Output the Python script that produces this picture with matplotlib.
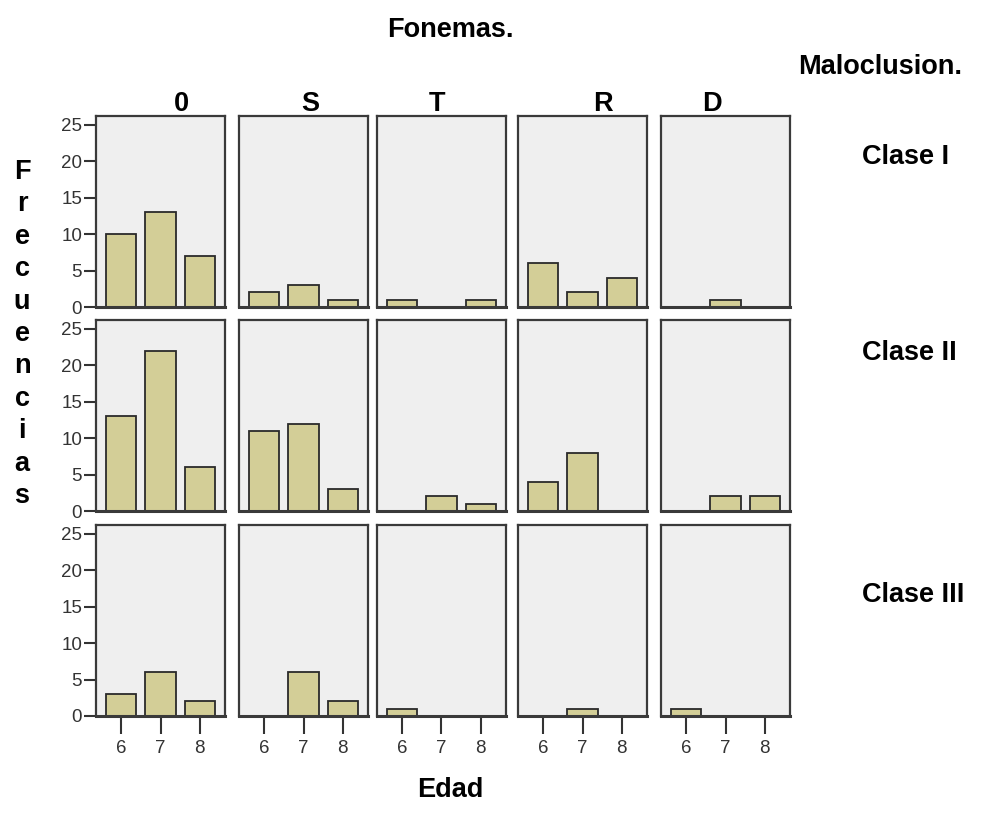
import numpy as np
import matplotlib
matplotlib.use('Agg')
import matplotlib.pyplot as plt

plt.rcParams['font.family'] = ['Liberation Sans', 'DejaVu Sans']

fonemas = ['0', 'S', 'T', 'R', 'D']
clases = ['Clase I', 'Clase II', 'Clase III']
edades = [6, 7, 8]

# frecuencias por clase (filas) y fonema (columnas), edades 6,7,8
clase1 = [[10, 13, 7], [2, 3, 1], [1, 0, 1], [6, 2, 4], [0, 1, 0]]
clase2 = [[13, 22, 6], [11, 12, 3], [0, 2, 1], [4, 8, 0], [0, 2, 2]]
clase3 = [[3, 6, 2], [0, 6, 2], [1, 0, 0], [0, 1, 0], [1, 0, 0]]
datos = [clase1, clase2, clase3]

W, H = 985, 831
fig = plt.figure(figsize=(W / 100, H / 100), dpi=100)

col_x = [96, 239, 377, 518, 661]
col_w = 129
row_y = [116, 320, 525]
row_h = 191

for i, fila in enumerate(datos):
    for j, vals in enumerate(fila):
        ax = fig.add_axes([col_x[j] / W, 1 - (row_y[i] + row_h) / H, col_w / W, row_h / H])
        ax.set_facecolor('#efefef')
        ax.bar(edades, vals, width=0.77, color='#d3ce97', edgecolor='#2a2a2a', linewidth=1.3)
        ax.set_xlim(5.35, 8.65)
        ax.set_ylim(0, 26.2)
        for s in ax.spines.values():
            s.set_color('#3a3a3a')
            s.set_linewidth(1.6)
        ax.spines['bottom'].set_linewidth(2.2)
        if j == 0:
            ax.set_yticks([0, 5, 10, 15, 20, 25])
            ax.set_yticklabels(['0', '5', '10', '15', '20', '25'], fontsize=13.5, color='#333333')
            ax.tick_params(axis='y', length=9, width=1.5, color='#333333', pad=1)
        else:
            ax.set_yticks([])
        if i == 2:
            ax.set_xticks(edades)
            ax.set_xticklabels([str(e) for e in edades], fontsize=13.5, color='#333333')
            ax.tick_params(axis='x', length=13, width=1.5, color='#333333', pad=4)
        else:
            ax.set_xticks([])

# titulos
fs = 19.5
fig.text(450 / W, 1 - 30 / H, 'Fonemas.', fontsize=fs, fontweight='bold', ha='center', va='center')
fig.text(880 / W, 1 - 67 / H, 'Maloclusion.', fontsize=fs, fontweight='bold', ha='center', va='center')
col_lab_x = [181, 310, 437, 603, 712]
for lab, x in zip(fonemas, col_lab_x):
    fig.text(x / W, 1 - 104 / H, lab, fontsize=fs, fontweight='bold', ha='center', va='center')
for lab, y in zip(clases, [157, 353, 595]):
    fig.text(862 / W, 1 - y / H, lab, fontsize=fs, fontweight='bold', ha='left', va='center')
fig.text(450 / W, 1 - 790 / H, 'Edad', fontsize=fs, fontweight='bold', ha='center', va='center')

for k, ch in enumerate('Frecuencias'):
    fig.text(22 / W, 1 - (172 + k * 32.4) / H, ch, fontsize=fs, fontweight='bold', ha='center', va='center')

fig.savefig('out.png', dpi=100)
